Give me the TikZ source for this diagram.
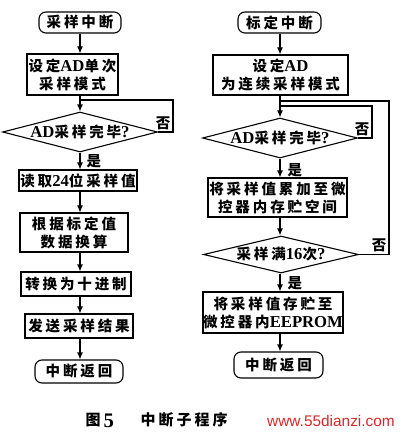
\documentclass[tikz,border=0pt]{standalone}
\usepackage{fontspec}
\setmainfont{Liberation Serif}[Scale=1.15]
\newfontfamily\cjk{Noto Sans CJK SC}[LetterSpace=20]
\newfontfamily\webfont{Liberation Sans}
\usetikzlibrary{shapes.geometric,arrows.meta}
\definecolor{markred}{RGB}{214,40,40}
\newcommand{\en}[1]{{\rmfamily\bfseries #1}}

\begin{document}
\begin{tikzpicture}[x=1pt,y=-1pt,line width=1.1pt,
    >={Latex[length=7pt,width=6pt]},
    every node/.style={font=\fontsize{14.5}{18}\selectfont\cjk\bfseries,inner sep=0pt},
    proc/.style={draw,rectangle,align=center},
    term/.style={draw,rectangle,rounded corners=7pt,align=center},
    cond/.style={draw,diamond,aspect=4}]
    \useasboundingbox (0,0) rectangle (400,434);
    \coordinate (ls) at (80,0);
    \coordinate (rs) at (280,0);
    % left: sampling interrupt
    \node[term,minimum width=82pt,minimum height=21pt] (t1) at (80,22.5) {采样中断};
    \node[proc,minimum width=91pt,minimum height=41pt] (p1) at (72.5,74.5) {设定\en{AD}单次\\采样模式};
    \node[cond,minimum width=151pt,minimum height=40pt] (d1) at (80,132) {\en{AD}采样完毕\en{?}};
    \node[proc,minimum width=118pt,minimum height=21pt] (p2) at (78,180.5) {读取\en{24}位采样值};
    \node[proc,minimum width=108pt,minimum height=39pt] (p3) at (74,232.5) {根据标定值\\数据换算};
    \node[proc,minimum width=110pt,minimum height=24pt] (p4) at (76,284) {转换为十进制};
    \node[proc,minimum width=108pt,minimum height=24pt] (p5) at (79,326) {发送采样结果};
    \node[term,minimum width=88pt,minimum height=23pt] (t2) at (79,371.5) {中断返回};
    \foreach \a/\b in {t1/p1,p1/d1,d1/p2,p2/p3,p3/p4,p4/p5,p5/t2}
        \draw[->] (\a.south -| ls) -- (\b.north -| ls);
    \coordinate (l1) at (173,100);
    \draw (d1.east) -| (l1) -- (l1 -| ls);
    \node[anchor=south east] (no1) at (171,130) {否};
    \node[anchor=west] (yes1) at (86,161) {是};
    % right: calibration interrupt
    \node[term,minimum width=83pt,minimum height=21pt] (t3) at (279.5,22.5) {标定中断};
    \node[proc,minimum width=135pt,minimum height=40pt] (q1) at (280.5,75) {设定\en{AD}\\为连续采样模式};
    \node[cond,minimum width=152pt,minimum height=40pt] (d2) at (280,138) {\en{AD}采样完毕\en{?}};
    \node[proc,minimum width=139pt,minimum height=39pt] (q2) at (277.5,197.5) {将采样值累加至微\\控器内存贮空间};
    \node[cond,minimum width=155pt,minimum height=37pt] (d3) at (281,254.5) {采样满\en{16}次\en{?}};
    \node[proc,minimum width=140pt,minimum height=41pt] (q3) at (273,312.5) {将采样值存贮至\\微控器内\en{EEPROM}};
    \node[term,minimum width=89pt,minimum height=26pt] (t4) at (278.5,365) {中断返回};
    \foreach \a/\b in {t3/q1,q1/d2,d2/q2,q2/d3,d3/q3,q3/t4}
        \draw[->] (\a.south -| rs) -- (\b.north -| rs);
    \coordinate (r1) at (372,106);
    \coordinate (r2) at (389,101);
    \draw (d2.east) -| (r1) -- (r1 -| rs);
    \draw (d3.east) -| (r2) -- (r2 -| rs);
    \node[anchor=south east] (no2) at (370,136) {否};
    \node[anchor=south east] (no3) at (387,252) {否};
    \node[anchor=west] (yes2) at (287,170) {是};
    \node[anchor=west] (yes3) at (287,283) {是};
    % caption
    \node[anchor=west,font=\fontsize{15}{16}\selectfont\cjk\bfseries] (fig) at (85,420) {图};
    \node[anchor=west,font=\fontsize{18}{18}\selectfont\rmfamily\bfseries] (num) at (103,420.5) {5};
    \node[anchor=west,font=\fontsize{15}{16}\selectfont\cjk\bfseries] (cap) at (140,420) {中断子程序};
    \node[font=\fontsize{15.4}{16}\selectfont\webfont,text=markred] (web) at (331,421) {www.55dianzi.com};
\end{tikzpicture}
\end{document}
